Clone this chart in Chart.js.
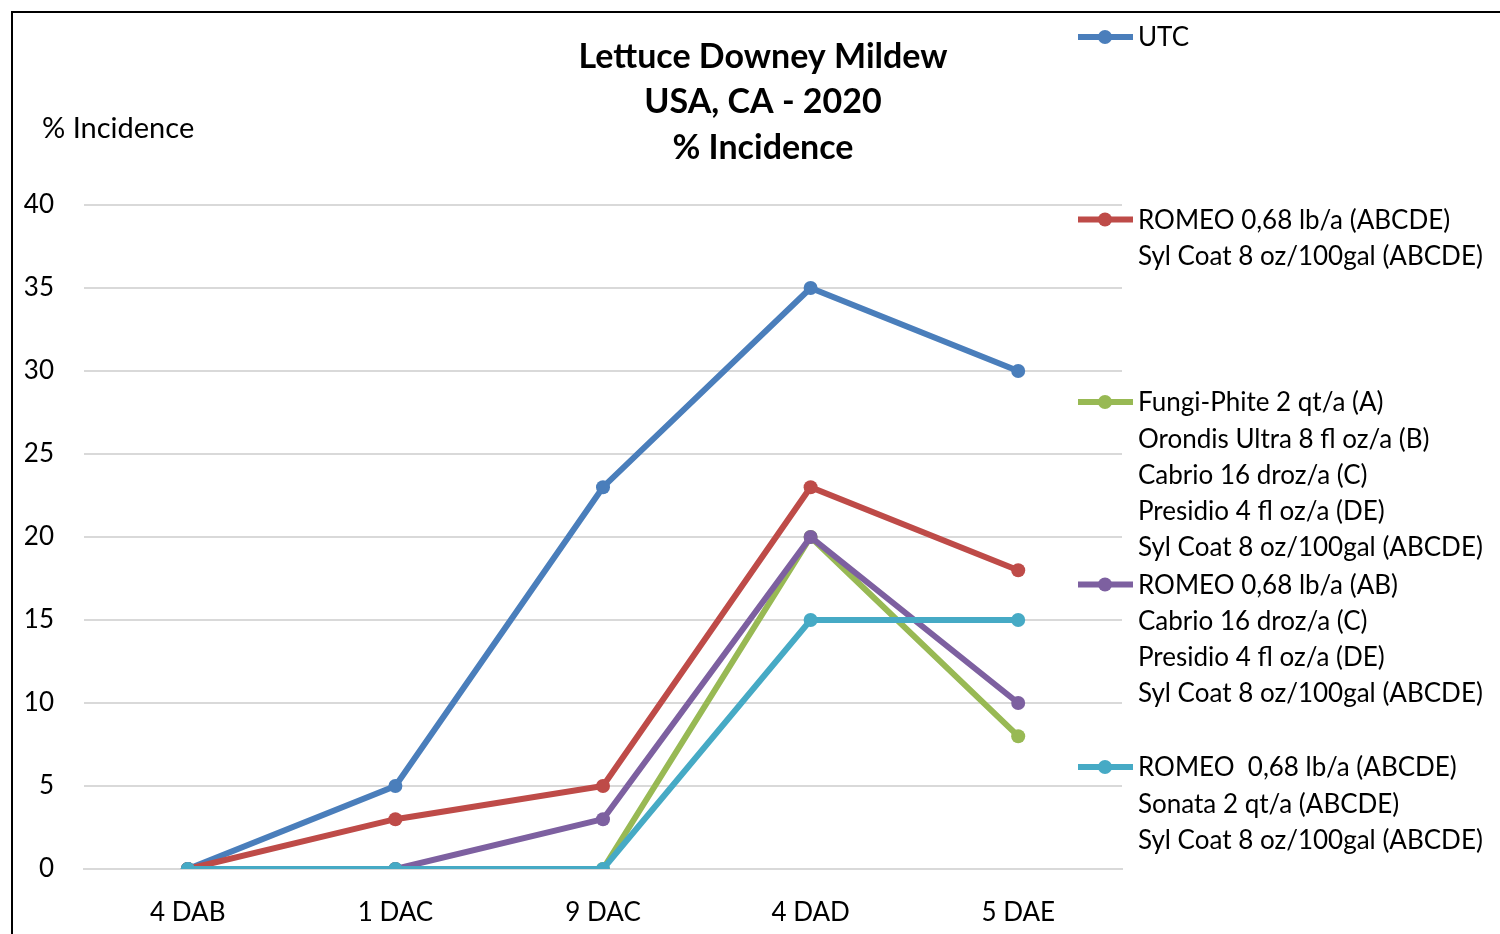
<!DOCTYPE html>
<html>
<head>
<meta charset="utf-8">
<script src="https://cdn.jsdelivr.net/npm/chart.js@4/dist/chart.umd.min.js"></script>
<style>
  html, body { margin: 0; padding: 0; background: #fff; }
  #wrap { width: 1500px; height: 934px; position: relative; }
</style>
</head>
<body>
<div id="wrap"><canvas id="grafik"></canvas></div>
<script>
var categories = ['4 DAB', '1 DAC', '9 DAC', '4 DAD', '5 DAE'];

var utc = [0, 5, 23, 35, 30];
var romeoAbcde = [0, 3, 5, 23, 18];
var fungiPhite = [0, 0, 0, 20, 8];
var romeoAb = [0, 0, 3, 20, 10];
var romeoSonata = [0, 0, 0, 15, 15];

var yTicks = [0, 5, 10, 15, 20, 25, 30, 35, 40];

var titleLines = ['Lettuce Downey Mildew', 'USA, CA - 2020', '% Incidence'];
var yLabel = '% Incidence';

var legendLines = [
    ['UTC'],
    ['ROMEO 0,68 lb/a (ABCDE)', 'Syl Coat 8 oz/100gal (ABCDE)'],
    ['Fungi-Phite 2 qt/a (A)', 'Orondis Ultra 8 fl oz/a (B)', 'Cabrio 16 droz/a (C)', 'Presidio 4 fl oz/a (DE)', 'Syl Coat 8 oz/100gal (ABCDE)'],
    ['ROMEO 0,68 lb/a (AB)', 'Cabrio 16 droz/a (C)', 'Presidio 4 fl oz/a (DE)', 'Syl Coat 8 oz/100gal (ABCDE)'],
    ['ROMEO  0,68 lb/a (ABCDE)', 'Sonata 2 qt/a (ABCDE)', 'Syl Coat 8 oz/100gal (ABCDE)']
];

var seriesData = [utc, romeoAbcde, fungiPhite, romeoAb, romeoSonata];
var colors = ['#4A7EBB', '#BE4B48', '#98B954', '#7D60A0', '#46AAC5'];

var FONT = 'Lato, "Open Sans", sans-serif';

var datasets = seriesData.map(function (d, i) {
    return {
        label: legendLines[i].join(' '),
        data: d,
        borderColor: colors[i],
        backgroundColor: colors[i],
        borderWidth: 6,
        pointRadius: 7,
        pointHoverRadius: 7,
        pointBorderWidth: 0,
        tension: 0,
        // excel draws the last series on top
        order: seriesData.length - i
    };
});

// frame, title, axis label and the multi line legend
var extras = {
    id: 'extras',
    afterDraw: function (chart) {
        var ctx = chart.ctx;
        ctx.save();

        ctx.strokeStyle = '#000';
        ctx.lineWidth = 2;
        ctx.strokeRect(12, 12, 1520, 960);

        ctx.fillStyle = '#000';
        ctx.textAlign = 'center';
        ctx.textBaseline = 'middle';
        ctx.font = 'bold 34px ' + FONT;
        titleLines.forEach(function (t, i) {
            ctx.fillText(t, 763, 57 + i * 45.5);
        });

        ctx.textAlign = 'left';
        ctx.font = '29px ' + FONT;
        ctx.fillText(yLabel, 42, 129);

        ctx.font = '26px ' + FONT;
        legendLines.forEach(function (lines, i) {
            var y = 37 + i * 182.5;
            ctx.strokeStyle = colors[i];
            ctx.lineWidth = 6;
            ctx.beginPath();
            ctx.moveTo(1078, y);
            ctx.lineTo(1133, y);
            ctx.stroke();
            ctx.fillStyle = colors[i];
            ctx.beginPath();
            ctx.arc(1105, y, 7, 0, Math.PI * 2);
            ctx.fill();
            ctx.fillStyle = '#000';
            lines.forEach(function (t, j) {
                ctx.fillText(t, 1138, y + 1 + j * 36.2);
            });
        });
        ctx.restore();
    }
};

var ctx = document.getElementById('grafik').getContext('2d');
var chart = new Chart(ctx, {
    type: 'line',
    data: {
        labels: categories,
        datasets: datasets
    },
    options: {
        responsive: true,
        maintainAspectRatio: false,
        animation: false,
        layout: {
            padding: { left: 0, right: 378, top: 205, bottom: 0 }
        },
        plugins: {
            legend: { display: false },
            title: { display: false },
            tooltip: { enabled: false }
        },
        scales: {
            x: {
                offset: true,
                grid: { display: false, drawTicks: false },
                border: { display: true, color: '#D9D9D9', width: 2 },
                ticks: {
                    color: '#000',
                    font: { family: FONT, size: 26 },
                    padding: 28,
                    maxRotation: 0
                },
                afterFit: function (s) { s.height = 65; }
            },
            y: {
                min: 0,
                max: 40,
                afterBuildTicks: function (s) {
                    s.ticks = yTicks.map(function (v) { return { value: v }; });
                },
                grid: { color: '#D9D9D9', lineWidth: 2, drawTicks: false },
                border: { display: false },
                ticks: {
                    color: '#000',
                    font: { family: FONT, size: 26 },
                    padding: 30
                },
                afterFit: function (s) { s.width = 84; }
            }
        }
    },
    plugins: [extras]
});
</script>
</body>
</html>
